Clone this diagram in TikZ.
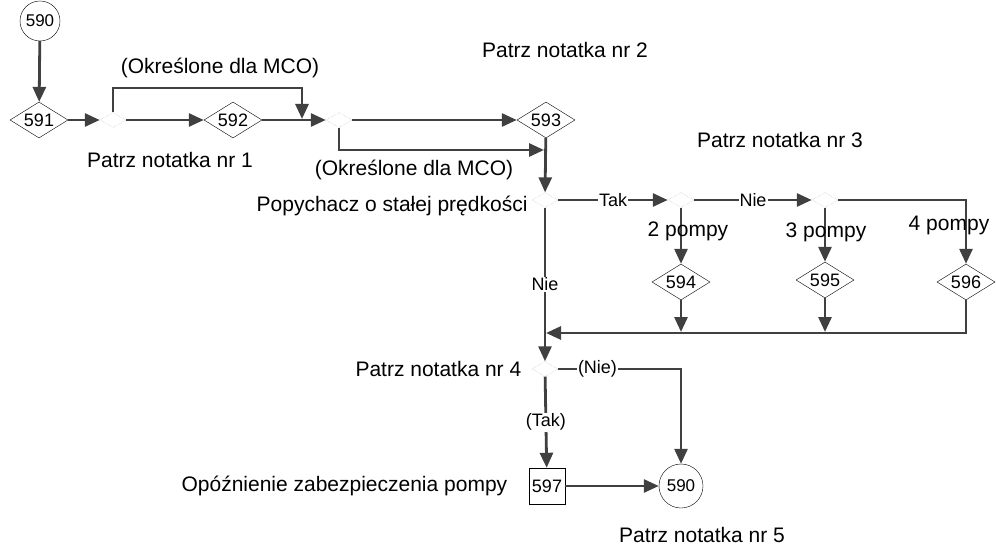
\documentclass[tikz,border=0pt]{standalone}
\usepackage{fontspec}
\setmainfont{Liberation Sans}
\usepackage{xcolor}
\usepackage{tikz}
\usetikzlibrary{shapes.geometric,positioning,arrows.meta}
\definecolor{flowc}{HTML}{404040}

\begin{document}
\begin{tikzpicture}[x=1pt,y=-1pt,font=\fontsize{21}{24}\selectfont]
  \tikzstyle{dec}=[diamond,draw,thin,aspect=1.6,minimum width=58pt,minimum height=36pt,
    inner sep=0pt,font=\fontsize{18}{20}\selectfont]
  \tikzstyle{junc}=[diamond,draw=gray!60,densely dotted,minimum width=26pt,minimum height=15pt,inner sep=0pt]
  \tikzstyle{refnode}=[circle,draw,thin,minimum size=44pt,inner sep=0pt,font=\fontsize{17}{19}\selectfont]
  \tikzstyle{flow}=[draw=flowc,line width=2.8pt,-{Triangle[length=15pt,width=13pt]}]
  \tikzstyle{lbl}=[fill=white,inner sep=1pt,font=\fontsize{18}{20}\selectfont]
  \useasboundingbox (0,0) rectangle (996,548);
  \node[refnode,minimum size=40pt] (top590) at (40,21) {590};
  \node[dec] (d591) at (39,120) {591};
  \node[junc] (j1) at (113,120) {};
  \node[dec] (d592) at (233,120) {592};
  \node[junc] (j2) at (339,120) {};
  \node[dec] (d593) at (546,120) {593};
  \node[junc] (j3) at (545,200) {};
  \node[junc] (j4) at (681,200) {};
  \node[junc] (j5) at (825,200) {};
  \node[dec] (d594) at (681,282) {594};
  \node[dec] (d595) at (825,280) {595};
  \node[dec] (d596) at (966,282) {596};
  \node[junc] (j6) at (545,369) {};
  \node[draw,thin,minimum size=36pt,inner sep=0pt,font=\fontsize{18}{20}\selectfont] (b597) at (547,486) {597};
  \node[refnode] (end590) at (681,486) {590};
  \coordinate (mcoA) at (302,88);
  \coordinate (joinA) at (302,119);
  \coordinate (joinB) at (544,150);
  \coordinate (join594) at (681,332);
  \coordinate (join595) at (825,332);
  \coordinate (joinC) at (546,333);
  \draw[flow] (top590) -- (d591);
  \draw[flow] (d591) -- (j1);
  \draw[flow] (j1) -- (d592);
  \draw[flow] (j1.north) |- (mcoA) -- (joinA);
  \draw[flow] (d592) -- (j2);
  \draw[flow] (j2) -- (d593);
  \draw[flow] (j2.south) |- (joinB);
  \draw[flow] (d593) -- (j3);
  \draw[flow] (j3) -- node[lbl]{Tak} (j4);
  \draw[flow] (j4) -- node[lbl]{Nie} (j5);
  \draw[flow] (j5) -| (d596);
  \draw[flow] (j4) -- (d594);
  \draw[flow] (j5) -- (d595);
  \draw[flow] (d594) -- (join594);
  \draw[flow] (d595) -- (join595);
  \draw[flow] (d596) |- (joinC);
  \draw[flow] (j3) -- node[lbl]{Nie} (j6);
  \draw[flow] (j6) -| node[lbl,pos=0.16]{(Nie)} (end590);
  \draw[flow] (j6) -- node[lbl]{(Tak)} (b597);
  \draw[flow] (b597) -- (end590);
  \node at (220,68) {(Określone dla MCO)};
  \node at (170,160) {Patrz notatka nr 1};
  \node at (414,170) {(Określone dla MCO)};
  \node at (565,50) {Patrz notatka nr 2};
  \node at (780,140) {Patrz notatka nr 3};
  \node[anchor=east] at (531,206) {Popychacz o stałej prędkości};
  \node at (688,231) {2 pompy};
  \node at (826,232) {3 pompy};
  \node at (949,225) {4 pompy};
  \node[left=7pt of j6] {Patrz notatka nr 4};
  \node[left=18pt of b597] {Opóźnienie zabezpieczenia pompy};
  \node at (702,535) {Patrz notatka nr 5};
\end{tikzpicture}
\end{document}
